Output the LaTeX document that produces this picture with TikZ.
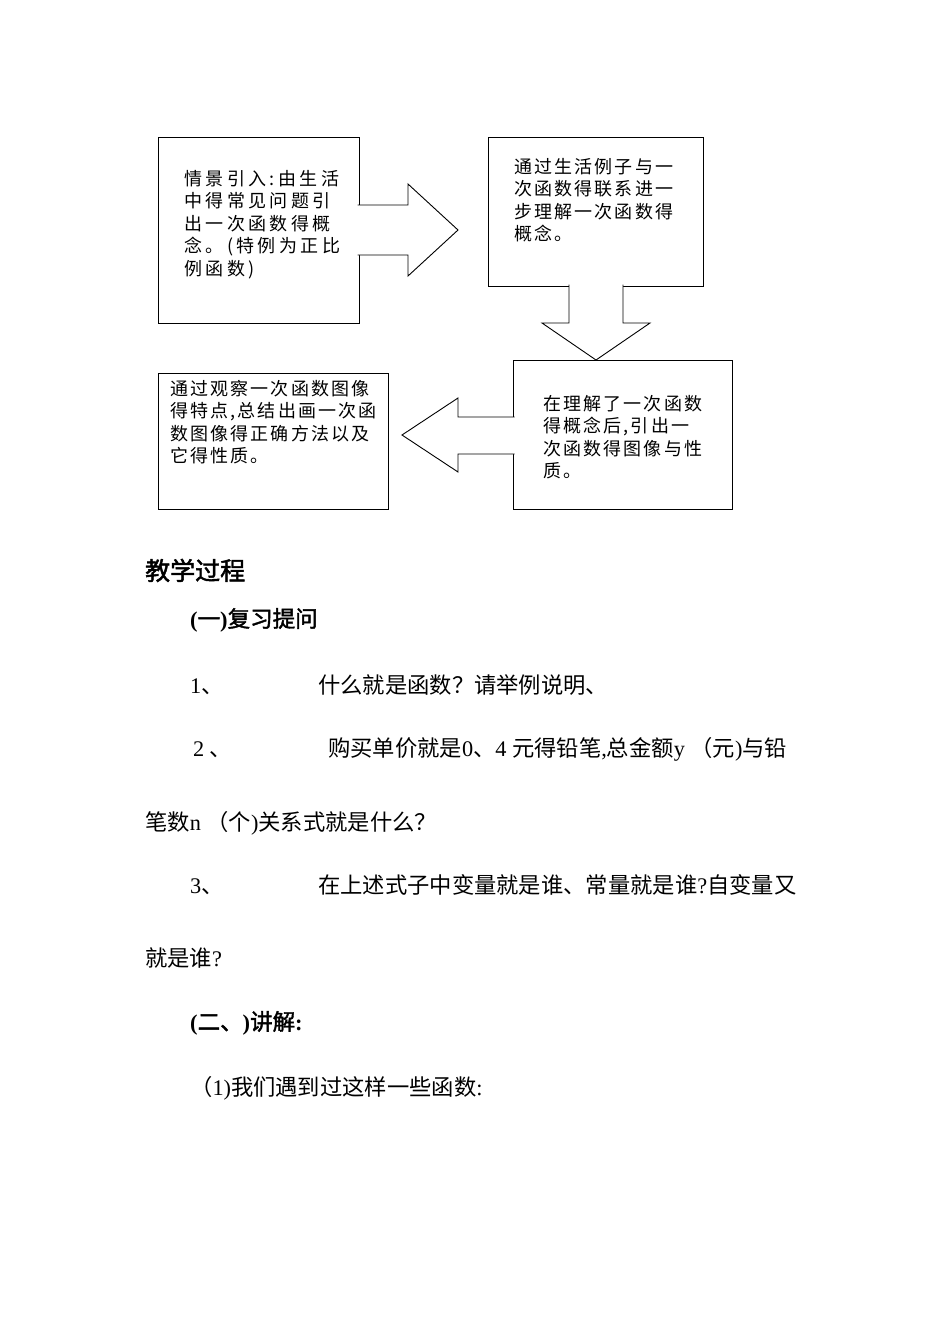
\documentclass[tikz,border=0pt]{standalone}
\usepackage{fontspec}
\setmainfont{Liberation Serif}
\newfontfamily\cjk{Noto Sans CJK SC}
\newfontfamily\cjkwide[LetterSpace=12]{Noto Sans CJK SC}
\newfontfamily\cjkwider[LetterSpace=19]{Noto Sans CJK SC}
\newfontfamily\cjkbold[FakeBold=1.8]{Noto Sans CJK SC}
\newfontfamily\latfont{Liberation Serif}
\newcommand\lat[1]{{\latfont #1}}
\usetikzlibrary{positioning, calc}

\begin{document}
\begin{tikzpicture}[x=1pt, y=-1pt,
    box/.style={draw, line width=0.9pt, inner sep=0pt, outer sep=0pt},
    boxtext/.style={anchor=north west, inner sep=0pt, align=left, font=\cjkwide\fontsize{18}{22.5}\selectfont},
    blockarrow/.style={draw, fill=white, line width=0.9pt, line join=miter},
    body/.style={anchor=base west, inner sep=0pt, font=\cjk\fontsize{22.3}{26}\selectfont},
    heading/.style={anchor=base west, inner sep=0pt, font=\cjkbold\fontsize{22.5}{26}\selectfont}
]
\useasboundingbox[fill=white] (0,0) rectangle (950,1344);

% Boxes of the flow chart
\node[box, minimum width=201, minimum height=186] (intro) at (258.5,230) {};
\node[box, minimum width=215, minimum height=149] (link) at (595.5,211.5) {};
\node[box, minimum width=219, minimum height=149] (graph) at (622.5,434.5) {};
\node[box, minimum width=230, minimum height=136] (method) at (273,441) {};

\node[boxtext, font=\cjkwider\fontsize{18}{22.5}\selectfont] (introtext) at ([shift={(26,33)}]intro.north west) {情景引入:由生活\\中得常见问题引\\出一次函数得概\\念。(特例为正比\\例函数)};
\node[boxtext] (linktext) at ([shift={(26,21)}]link.north west) {通过生活例子与一\\次函数得联系进一\\步理解一次函数得\\概念。};
\node[boxtext] (graphtext) at ([shift={(30,35)}]graph.north west) {在理解了一次函数\\得概念后,引出一\\次函数得图像与性\\质。};
\node[boxtext] (methodtext) at ([shift={(12,7)}]method.north west) {通过观察一次函数图像\\得特点,总结出画一次函\\数图像得正确方法以及\\它得性质。};

% Block arrows, open into the box they leave
\draw[blockarrow] ([shift={(-1.5,-25)}]intro.east) -- ++(50.5,0) -- ++(0,-21) -- ++(50,46) -- ++(-50,46) -- ++(0,-21) -- ++(-50.5,0);
\draw[blockarrow] ([shift={(-26.5,-1.5)}]link.south) -- ++(0,38.5) -- ++(-27,0) -- ++(54,37) -- ++(54,-37) -- ++(-27,0) -- ++(0,-38.5);
\draw[blockarrow] ([shift={(1.5,-17.5)}]graph.west) -- ++(-56.5,0) -- ++(0,-19) -- ++(-56,37) -- ++(56,37) -- ++(0,-18) -- ++(56.5,0);

% Text of the page
\node[heading, font=\cjkbold\fontsize{25}{30}\selectfont] (title) at (145,580) {教学过程};
\node[heading] (review) at (190,627) {{\latfont\bfseries (}一{\latfont\bfseries )}复习提问};
\node[body] (qonenum) at (190,693) {\lat{1}、};
\node[body] (qone) at (318,693) {什么就是函数？请举例说明、};
\node[body] (qtwonum) at (193,756) {\lat{2 }、};
\node[body] (qtwo) at (328,756) {购买单价就是\lat{0}、\lat{4 }元得铅笔\lat{,}总金额\lat{y }（元\lat{)}与铅};
\node[body] (qtwomore) at (145,830) {笔数\lat{n }（个\lat{)}关系式就是什么？};
\node[body] (qthreenum) at (190,893) {\lat{3}、};
\node[body] (qthree) at (318,893) {在上述式子中变量就是谁、常量就是谁\lat{?}自变量又};
\node[body] (qthreemore) at (145,966) {就是谁\lat{?}};
\node[heading] (explain) at (190,1030) {{\latfont\bfseries (}二、{\latfont\bfseries )}讲解{\latfont\bfseries :}};
\node[body] (exone) at (190,1095) {（\lat{1)}我们遇到过这样一些函数\lat{:}};

\end{tikzpicture}
\end{document}
